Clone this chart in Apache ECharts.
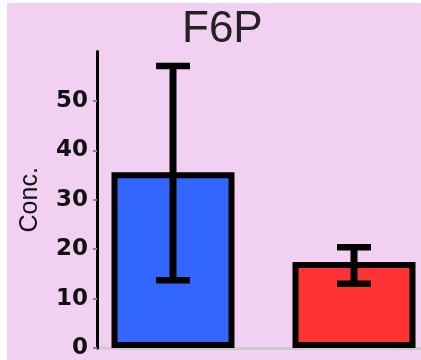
<!DOCTYPE html>
<html>
<head>
<meta charset="utf-8">
<script src="https://cdn.jsdelivr.net/npm/echarts@6/dist/echarts.min.js"></script>
<style>
html,body{margin:0;padding:0;background:#ffffff;}
#chart{width:421px;height:360px;}
</style>
</head>
<body>
<div id="chart"></div>
<script>
var title = 'F6P';
var yName = 'Conc.';
var categories = ['F6P'];
var groupNames = ['Group 1', 'Group 2'];
var means = [35.6, 17.4];
var errLow = [13.7, 13.0];
var errHigh = [57.1, 20.4];
var yTicks = [0, 10, 20, 30, 40, 50];
var barColors = ['#3366ff', '#ff3333'];

var BAR_W = 123;
var STEP = 181;

var chart = echarts.init(document.getElementById('chart'), null, {renderer: 'canvas'});

var series = [];
groupNames.forEach(function (g, i) {
  series.push({
    name: g,
    type: 'bar',
    data: [means[i]],
    barWidth: BAR_W,
    barGap: ((STEP - BAR_W) / BAR_W * 100) + '%',
    itemStyle: {color: barColors[i], borderColor: '#000', borderWidth: 6},
    z: 2
  });
});

series.push({
  type: 'custom',
  name: 'err',
  z: 5,
  data: groupNames.map(function (g, i) { return [0, errLow[i], errHigh[i], i]; }),
  renderItem: function (params, api) {
    var idx = api.value(3);
    var n = groupNames.length;
    var off = (idx - (n - 1) / 2) * STEP;
    var lo = api.coord([api.value(0), api.value(1)]);
    var hi = api.coord([api.value(0), api.value(2)]);
    var x = lo[0] + off;
    var half = 17;
    var st = {stroke: '#000', lineWidth: 7};
    var cs = {stroke: '#000', lineWidth: 6.5};
    return {
      type: 'group',
      children: [
        {type: 'line', shape: {x1: x, y1: hi[1], x2: x, y2: lo[1]}, style: st},
        {type: 'line', shape: {x1: x - half, y1: hi[1], x2: x + half, y2: hi[1]}, style: cs},
        {type: 'line', shape: {x1: x - half, y1: lo[1], x2: x + half, y2: lo[1]}, style: cs}
      ]
    };
  }
});

chart.setOption({
  backgroundColor: '#ffffff',
  animation: false,
  graphic: [{
    type: 'rect', z: -10, silent: true,
    shape: {x: 7, y: 3, width: 414, height: 357},
    style: {fill: '#f1d0f1'}
  }, {
    type: 'rect', z: 1, silent: true,
    shape: {x: 97, y: 346.5, width: 10, height: 3},
    style: {fill: '#cccccc'}
  }],
  title: {
    text: title,
    left: 177,
    top: 3,
    textStyle: {fontFamily: 'Liberation Sans', fontSize: 44, fontWeight: 'normal', color: '#222'}
  },
  grid: {left: 106, right: 0, top: 51.6, height: 296.4, containLabel: false},
  xAxis: {
    type: 'category',
    data: categories,
    axisLine: {show: true, lineStyle: {color: '#cccccc', width: 3}},
    axisTick: {show: false},
    axisLabel: {show: false},
    z: 1
  },
  yAxis: {
    type: 'value',
    min: 0, max: 60, interval: 10,
    offset: 9,
    name: yName,
    nameLocation: 'middle',
    nameRotate: 90,
    nameGap: 54,
    nameTextStyle: {fontFamily: 'Liberation Sans', fontSize: 25, color: '#111'},
    axisLine: {show: true, lineStyle: {color: '#000', width: 3}},
    axisTick: {show: true, length: 4, lineStyle: {color: '#888', width: 2}, customValues: yTicks},
    axisLabel: {fontFamily: 'DejaVu Sans', fontSize: 23, fontWeight: 'bold', color: '#111', margin: 9, customValues: yTicks},
    splitLine: {show: false},
    z: 3
  },
  series: series
});
</script>
</body>
</html>
